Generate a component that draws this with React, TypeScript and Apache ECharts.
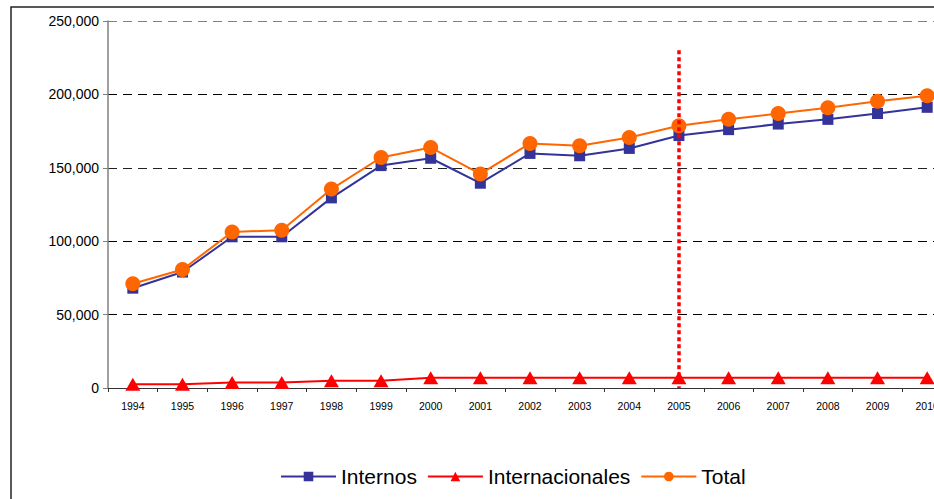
import React, { useEffect, useRef } from "react";
import * as echarts from "echarts";

const years = ["1994","1995","1996","1997","1998","1999","2000","2001","2002","2003","2004","2005","2006","2007","2008","2009","2010"];
const internos = [68000, 79000, 103000, 103000, 129500, 151500, 156500, 139500, 159800, 158200, 163200, 172000, 176000, 179800, 183000, 187000, 191200];
const internacionales = [2500, 2600, 3800, 3800, 5000, 5000, 7000, 7000, 7000, 7000, 7000, 7000, 7000, 7000, 7000, 7000, 7000];
const total = [71000, 80700, 106300, 107500, 135500, 157000, 163800, 145800, 166600, 165000, 170700, 178700, 183000, 187000, 190900, 195300, 199100];
const yTicks = [0, 50000, 100000, 150000, 200000, 250000];
const markYear = "2005";
const markTop = 230000;

const FONT = 'Arial, "Liberation Sans", sans-serif';

export default function App() {
  const ref = useRef<HTMLDivElement>(null);
  useEffect(() => {
    if (!ref.current) return;
    const chart = echarts.init(ref.current, null, { renderer: "svg" });
    chart.setOption({
      animation: false,
      backgroundColor: "#ffffff",
      graphic: [
        {
          type: "rect",
          shape: { x: 11, y: 7, width: 1000, height: 1000 },
          style: { fill: "none", stroke: "#222222", lineWidth: 1.5 },
          silent: true,
        },
      ],
      grid: { left: 108, right: 0, top: 21, bottom: 111, containLabel: false },
      legend: {
        left: 275,
        top: 461,
        itemWidth: 55,
        itemHeight: 12,
        itemGap: 10,
        textStyle: { fontFamily: FONT, fontSize: 21, color: "#000" },
        data: ["Internos", "Internacionales", "Total"],
      },
      xAxis: {
        type: "category",
        data: years,
        boundaryGap: true,
        axisLine: { lineStyle: { color: "#333333", width: 1 } },
        axisTick: { show: true, length: 4, lineStyle: { color: "#333333" } },
        axisLabel: { interval: 0, fontFamily: FONT, fontSize: 10.5, color: "#000", margin: 12 },
        splitLine: { show: false },
      },
      yAxis: {
        type: "value",
        min: yTicks[0],
        max: yTicks[yTicks.length - 1],
        interval: 50000,
        axisLine: { show: true, lineStyle: { color: "#808080", width: 1.5 } },
        axisTick: { show: true, length: 5, lineStyle: { color: "#808080" } },
        axisLabel: {
          fontFamily: FONT,
          fontSize: 14,
          color: "#000",
          margin: 9,
          formatter: (v: number) => v.toLocaleString("en-US"),
        },
        splitLine: {
          show: true,
          lineStyle: {
            color: ["#000000", "#000000", "#000000", "#222222", "#000000", "#808080"],
            type: [9, 6],
            width: 1,
          },
        },
      },
      series: [
        {
          name: "Internos",
          type: "line",
          data: internos,
          symbol: "rect",
          symbolSize: 11,
          lineStyle: { color: "#333399", width: 2 },
          itemStyle: { color: "#333399" },
          z: 2,
        },
        {
          name: "Internacionales",
          type: "line",
          data: internacionales,
          symbol: "triangle",
          symbolSize: [15, 13],
          lineStyle: { color: "#FF0000", width: 2 },
          itemStyle: { color: "#FF0000" },
          z: 3,
        },
        {
          name: "Total",
          type: "line",
          data: total,
          symbol: "circle",
          symbolSize: 15,
          lineStyle: { color: "#FF6600", width: 2 },
          itemStyle: { color: "#FF6600" },
          z: 4,
          markLine: {
            silent: true,
            symbol: ["none", "none"],
            label: { show: false },
            lineStyle: { color: "#FF0000", type: [4, 3], width: 3.5 },
            data: [[{ coord: [markYear, markTop] }, { coord: [markYear, 0] }]],
          },
        },
      ],
    });
    return () => chart.dispose();
  }, []);
  return (
    <div style={{ position: "fixed", left: 0, top: 0, width: 934, height: 499, overflow: "hidden", background: "#fff" }}>
      <div ref={ref} style={{ width: 952, height: 499 }} />
    </div>
  );
}
